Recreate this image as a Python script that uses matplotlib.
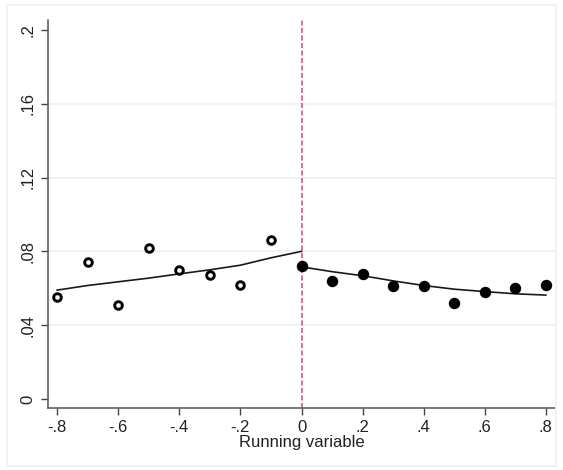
import numpy as np
import matplotlib.pyplot as plt
from matplotlib.patches import Rectangle

plt.rcParams['font.family'] = ['Liberation Sans', 'DejaVu Sans']

# binned means, left and right of the cutoff
x_left = [-0.8, -0.7, -0.6, -0.5, -0.4, -0.3, -0.2, -0.1]
y_left = [0.055, 0.074, 0.051, 0.082, 0.070, 0.067, 0.062, 0.086]
x_right = [0.0, 0.1, 0.2, 0.3, 0.4, 0.5, 0.6, 0.7, 0.8]
y_right = [0.072, 0.064, 0.068, 0.061, 0.061, 0.052, 0.058, 0.060, 0.062]

# local fits on each side
fx_left = [-0.8, -0.7, -0.6, -0.5, -0.4, -0.3, -0.2, -0.1, 0.0]
fy_left = [0.059, 0.0615, 0.0635, 0.0655, 0.0678, 0.070, 0.0725, 0.0765, 0.080]
fx_right = [0.0, 0.1, 0.2, 0.3, 0.4, 0.5, 0.6, 0.7, 0.8]
fy_right = [0.0716, 0.069, 0.0668, 0.064, 0.0615, 0.0595, 0.0582, 0.057, 0.0563]

xticks = [-0.8, -0.6, -0.4, -0.2, 0, 0.2, 0.4, 0.6, 0.8]
xlabels = ['-.8', '-.6', '-.4', '-.2', '0', '.2', '.4', '.6', '.8']
yticks = [0, 0.04, 0.08, 0.12, 0.16, 0.2]
ylabels = ['0', '.04', '.08', '.12', '.16', '.2']

fig = plt.figure(figsize=(5.63, 4.70), dpi=100)
fig.patches.append(Rectangle((7/563, 4/470), 549/563, 461/470, transform=fig.transFigure,
                             fill=False, edgecolor='#eef1f3', linewidth=1.2))
ax = fig.add_axes([48/563, 62/470, 507/563, 388/470])

for yv in yticks[1:-1]:
    ax.axhline(yv, color='#eaf2f4', linewidth=1.2, zorder=0)

ax.axvline(0, color='#d9557a', linestyle=(0, (3, 1.5)), linewidth=1.2, zorder=1)

ax.plot(fx_left, fy_left, color='#1a1a1a', linewidth=1.2, zorder=2)
ax.plot(fx_right, fy_right, color='#1a1a1a', linewidth=1.2, zorder=2)
ax.scatter(x_left, y_left, s=30, facecolors='white', edgecolors='black', linewidths=2.1, zorder=3)
ax.scatter(x_right, y_right, s=52, color='black', zorder=3)

ax.set_xlim(-0.83, 0.83)
ax.set_ylim(-0.0049, 0.2054)
ax.set_xticks(xticks)
ax.set_xticklabels(xlabels)
ax.set_yticks(yticks)
ax.set_yticklabels(ylabels, rotation=90, va='center')
ax.tick_params(axis='both', direction='out', length=5, width=1, color='#444444',
               labelsize=12, labelcolor='#222222')
ax.tick_params(axis='y', pad=4)
ax.set_xlabel('Running variable', fontsize=12, color='#222222', labelpad=0)

for side in ['top', 'right']:
    ax.spines[side].set_visible(False)
for side in ['left', 'bottom']:
    ax.spines[side].set_color('#555555')
    ax.spines[side].set_linewidth(1.1)

fig.savefig('out.png', dpi=100)
